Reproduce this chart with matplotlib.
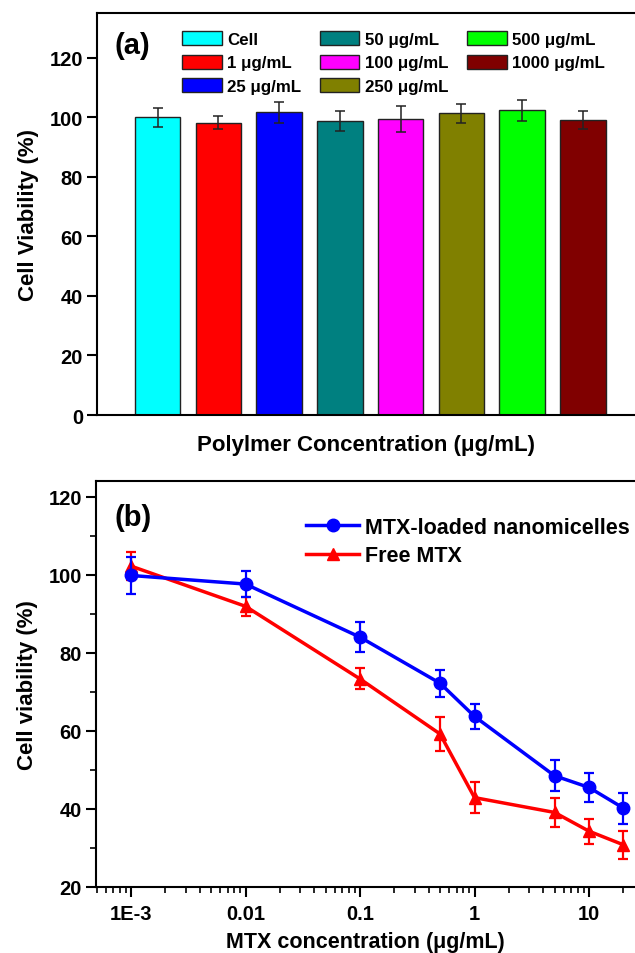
import numpy as np
import matplotlib
matplotlib.use("Agg")
import matplotlib.pyplot as plt
from matplotlib.lines import Line2D
from matplotlib.ticker import FixedLocator, FixedFormatter, LogLocator, NullFormatter, MultipleLocator

plt.rcParams['font.family'] = ['Liberation Sans', 'DejaVu Sans']
plt.rcParams['font.weight'] = 'bold'

# panel (a) data
groups = ["Cell", "1 \u03bcg/mL", "25 \u03bcg/mL", "50 \u03bcg/mL",
          "100 \u03bcg/mL", "250 \u03bcg/mL", "500 \u03bcg/mL", "1000 \u03bcg/mL"]
bar_vals = [100.0, 98.1, 101.6, 98.7, 99.3, 101.3, 102.3, 99.1]
bar_errs = [3.2, 2.2, 3.6, 3.3, 4.4, 3.3, 3.6, 3.0]
bar_colors = ["#00FFFF", "#FF0000", "#0000FF", "#008080",
              "#FF00FF", "#808000", "#00FF00", "#800000"]

# panel (b) data
conc = [0.001, 0.01, 0.1, 0.5, 1, 5, 10, 20]
micelle = [99.8, 97.6, 84.0, 72.2, 63.7, 48.5, 45.5, 40.2]
micelle_err = [4.8, 3.4, 3.8, 3.5, 3.1, 4.0, 3.8, 4.0]
free_mtx = [102.2, 91.9, 73.3, 59.2, 42.9, 39.1, 34.3, 30.8]
free_err = [3.6, 2.4, 2.7, 4.4, 4.0, 3.8, 3.2, 3.5]
xtick_vals = [0.001, 0.01, 0.1, 1, 10]
xtick_labels = ["1E-3", "0.01", "0.1", "1", "10"]

fig = plt.figure(figsize=(6.35, 9.54), dpi=100)

# ---- (a) ----
ax1 = fig.add_axes([97/635, 1-416/954, 1-97/635, (416-14)/954])
x = np.arange(len(groups))
for i in range(len(groups)):
    ax1.bar(x[i], bar_vals[i], width=0.75, color=bar_colors[i], edgecolor="#222222",
            linewidth=1.0, label=groups[i], zorder=2)
ax1.errorbar(x, bar_vals, yerr=bar_errs, fmt="none", ecolor="#222222",
             elinewidth=1.1, capsize=3.8, capthick=1.1, zorder=3)
ax1.set_xlim(-1.0, 7.86)
ax1.set_ylim(0, 135)
ax1.yaxis.set_major_locator(MultipleLocator(20))
ax1.set_xticks([])
ax1.spines['right'].set_visible(False)
for s in ax1.spines.values():
    s.set_linewidth(1.5)
ax1.tick_params(axis='y', direction='out', length=7, width=1.5, labelsize=14.5, pad=3)
ax1.set_ylabel("Cell Viability (%)", fontsize=16, fontweight='bold', labelpad=8)
ax1.set_xlabel("Polylmer Concentration (\u03bcg/mL)", fontsize=16, fontweight='bold', labelpad=14)
ax1.text(0.033, 0.955, "(a)", transform=ax1.transAxes, fontsize=21, fontweight='bold', va='top')
ax1.legend(ncol=3, loc='upper left', bbox_to_anchor=(0.158, 0.955), frameon=False,
           fontsize=12.2, handlelength=2.35, handleheight=0.9, handletextpad=0.3,
           columnspacing=1.1, labelspacing=0.45, borderaxespad=0, borderpad=0)

# ---- (b) ----
ax2 = fig.add_axes([96/635, 1-888/954, 1-96/635, (888-482)/954])
ax2.set_xscale('log')
ax2.errorbar(conc, micelle, yerr=micelle_err, color="#0000FF", marker='o', ms=9,
             lw=2.5, elinewidth=1.6, capsize=3.8, capthick=1.6, zorder=3)
ax2.errorbar(conc, free_mtx, yerr=free_err, color="#FF0000", marker='^', ms=9,
             lw=2.5, elinewidth=1.6, capsize=3.8, capthick=1.6, zorder=2)
ax2.set_xlim(10**(-3 - (131-96)/114.5), 10**(-3 + (635-131)/114.5))
ax2.set_ylim(20, 124)
ax2.yaxis.set_major_locator(MultipleLocator(20))
ax2.yaxis.set_minor_locator(MultipleLocator(10))
ax2.xaxis.set_major_locator(FixedLocator(xtick_vals))
ax2.xaxis.set_major_formatter(FixedFormatter(xtick_labels))
ax2.xaxis.set_minor_locator(LogLocator(base=10, subs=np.arange(2, 10)))
ax2.xaxis.set_minor_formatter(NullFormatter())
ax2.spines['right'].set_visible(False)
for s in ax2.spines.values():
    s.set_linewidth(1.5)
ax2.tick_params(which='major', direction='out', length=7, width=1.5, labelsize=14.5, pad=3)
ax2.tick_params(which='minor', direction='out', length=4, width=1.2)
ax2.tick_params(axis='x', which='major', pad=5)
ax2.set_ylabel("Cell viability (%)", fontsize=16, fontweight='bold', labelpad=8)
ax2.set_xlabel("MTX concentration (\u03bcg/mL)", fontsize=15.5, fontweight='bold', labelpad=6)
ax2.text(0.035, 0.945, "(b)", transform=ax2.transAxes, fontsize=21, fontweight='bold', va='top')
handles = [Line2D([], [], color="#0000FF", marker='o', ms=9, lw=2.5),
           Line2D([], [], color="#FF0000", marker='^', ms=9, lw=2.5)]
ax2.legend(handles, ["MTX-loaded nanomicelles", "Free MTX"],
           loc='upper left', bbox_to_anchor=(0.39, 0.912), frameon=False, fontsize=15.5,
           handlelength=2.45, handletextpad=0.3, labelspacing=0.35,
           borderaxespad=0, borderpad=0)

fig.savefig("out.png", dpi=100)
